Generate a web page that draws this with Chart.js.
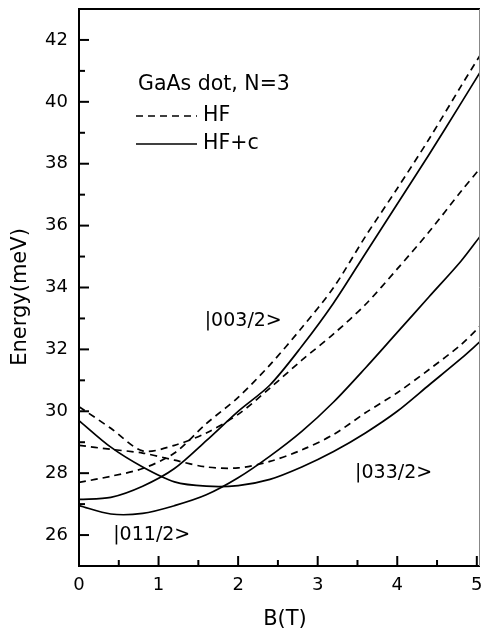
<!DOCTYPE html>
<html><head><meta charset="utf-8">
<script src="https://cdn.jsdelivr.net/npm/chart.js@4/dist/chart.umd.min.js"></script>
<style>html,body{margin:0;padding:0;background:#fff;}#wrap{width:481px;height:638px;}</style>
</head><body><div id="wrap"><canvas id="c" width="481" height="638"></canvas></div>
<script>
// Magnetic field values B (T)
const fieldB = [0, 0.4, 0.8, 1.2, 1.6, 2.0, 2.4, 2.8, 3.2, 3.6, 4.0, 4.4, 4.8, 5.04];
// HF (dashed) energies, meV
const hfUpper  = [27.7, 27.9, 28.15, 28.65, 29.6, 30.45, 31.5, 32.7, 34.0, 35.65, 37.2, 38.8, 40.5, 41.5];
const hfMiddle = [30.15, 29.45, 28.72, 28.9, 29.3, 29.9, 30.75, 31.65, 32.5, 33.45, 34.6, 35.8, 37.1, 37.85];
const hfLower  = [28.9, 28.77, 28.65, 28.42, 28.2, 28.17, 28.38, 28.75, 29.25, 29.95, 30.6, 31.35, 32.15, 32.75];
// HF+c (solid) energies, meV
const hfcUpper  = [27.15, 27.22, 27.58, 28.15, 29.05, 30.0, 30.85, 32.1, 33.5, 35.1, 36.7, 38.3, 39.95, 40.95];
const hfcMiddle = [26.95, 26.68, 26.7, 26.95, 27.3, 27.85, 28.55, 29.35, 30.3, 31.4, 32.55, 33.7, 34.85, 35.65];
const hfcLower  = [29.7, 28.84, 28.2, 27.72, 27.58, 27.6, 27.8, 28.2, 28.7, 29.3, 30.0, 30.85, 31.7, 32.25];
// Axis ticks
const xTicks = [0, 1, 2, 3, 4, 5];
const xMinorTicks = [0.5, 1.5, 2.5, 3.5, 4.5];
const yTicks = [26, 28, 30, 32, 34, 36, 38, 40, 42];
const yMinorTicks = [27, 29, 31, 33, 35, 37, 39, 41];
// State labels: text, B, E
const stateLabels = [["|003/2>", 1.58, 32.9], ["|033/2>", 3.47, 28.0], ["|011/2>", 0.43, 26.0]];

const FONT = '"DejaVu Sans", "Liberation Sans", Arial, sans-serif';
const toXY = arr => arr.map((v, i) => ({x: fieldB[i], y: v}));
const mk = (arr, dashed) => ({
  data: toXY(arr), borderColor: '#000', borderWidth: 1.7, pointRadius: 0,
  borderDash: dashed ? [7, 5] : [], tension: 0.3, fill: false
});

const decor = {
  id: 'decor',
  afterDraw(chart) {
    const {ctx, chartArea: a, scales: {x, y}} = chart;
    ctx.save();
    ctx.strokeStyle = '#000';
    ctx.lineWidth = 2;
    ctx.setLineDash([]);
    const seg = (x1, y1, x2, y2) => { ctx.beginPath(); ctx.moveTo(x1, y1); ctx.lineTo(x2, y2); ctx.stroke(); };
    yTicks.forEach(v => { const p = y.getPixelForValue(v); seg(a.left, p, a.left + 10, p); });
    yMinorTicks.forEach(v => { const p = y.getPixelForValue(v); seg(a.left, p, a.left + 6, p); });
    xTicks.forEach(v => { const p = x.getPixelForValue(v); seg(p, a.bottom, p, a.bottom - 10); });
    xMinorTicks.forEach(v => { const p = x.getPixelForValue(v); seg(p, a.bottom, p, a.bottom - 6); });
    // frame
    seg(a.left, a.top, a.left, a.bottom + 1);
    seg(a.left - 1, a.bottom, a.right, a.bottom);
    seg(a.left - 1, a.top, a.right, a.top);
    ctx.lineWidth = 1; ctx.strokeStyle = '#888';
    seg(a.right - 0.5, a.top, a.right - 0.5, a.bottom);
    // legend
    ctx.strokeStyle = '#000'; ctx.lineWidth = 1.6;
    ctx.setLineDash([7, 5]); seg(136, 116, 197, 116);
    ctx.setLineDash([]); seg(136, 144, 197, 144);
    ctx.fillStyle = '#000';
    ctx.textBaseline = 'middle'; ctx.textAlign = 'left';
    ctx.font = '20.5px ' + FONT;
    ctx.fillText('GaAs dot, N=3', 138, 85);
    ctx.fillText('HF', 203, 116);
    ctx.fillText('HF+c', 203, 144);
    // state labels
    ctx.font = '19px ' + FONT;
    stateLabels.forEach(([t, bx, ey]) => ctx.fillText(t, x.getPixelForValue(bx), y.getPixelForValue(ey)));
    // axis titles
    ctx.font = '21px ' + FONT; ctx.textAlign = 'center';
    ctx.fillText('B(T)', 285, 620);
    ctx.translate(21, 297); ctx.rotate(-Math.PI / 2);
    ctx.fillText('Energy(meV)', 0, 0);
    ctx.restore();
  }
};

new Chart(document.getElementById('c'), {
  type: 'line',
  data: { datasets: [mk(hfUpper, true), mk(hfMiddle, true), mk(hfLower, true), mk(hfcUpper, false), mk(hfcMiddle, false), mk(hfcLower, false)] },
  options: {
    responsive: false, animation: false, devicePixelRatio: 1,
    layout: { padding: { top: 9, right: 1, left: 0, bottom: 0 } },
    plugins: { legend: { display: false }, tooltip: { enabled: false } },
    scales: {
      x: {
        type: 'linear', min: 0, max: 5.04,
        grid: { display: false, drawTicks: false }, border: { display: false },
        ticks: { includeBounds: false, padding: 9, color: '#000', font: { family: FONT, size: 18 }, maxRotation: 0 },
        afterBuildTicks: s => { s.ticks = xTicks.map(v => ({value: v})); },
        afterFit: s => { s.height = 72; s.paddingLeft = 0; s.paddingRight = 0; }
      },
      y: {
        type: 'linear', min: 25, max: 43,
        grid: { display: false, drawTicks: false }, border: { display: false },
        ticks: { padding: 11, color: '#000', font: { family: FONT, size: 18 } },
        afterBuildTicks: s => { s.ticks = yTicks.map(v => ({value: v})); },
        afterFit: s => { s.width = 79; s.paddingTop = 0; s.paddingBottom = 0; }
      }
    }
  },
  plugins: [decor]
});
</script></body></html>
